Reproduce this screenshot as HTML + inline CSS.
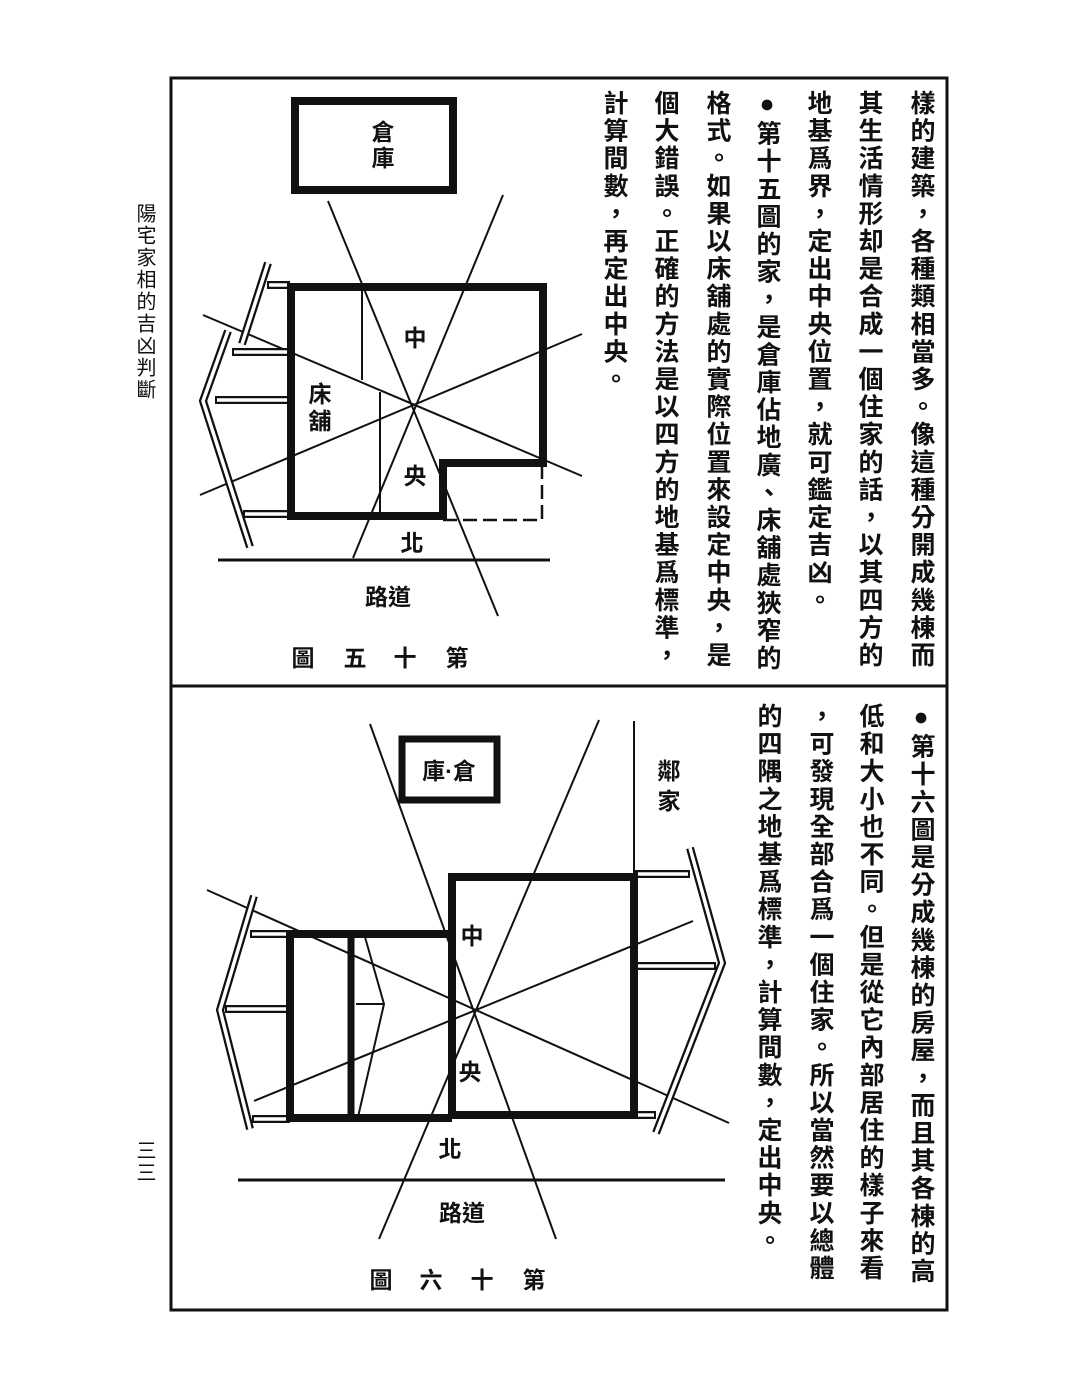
<!DOCTYPE html>
<html><head><meta charset="utf-8"><style>
html,body{margin:0;padding:0;background:#fff;}
body{width:1080px;height:1383px;position:relative;overflow:hidden;font-family:"Liberation Sans","Noto Sans CJK TC","Noto Sans CJK SC",sans-serif;}
svg{position:absolute;left:0;top:0;}
.col{position:absolute;writing-mode:vertical-rl;text-orientation:upright;font-size:25px;line-height:26px;letter-spacing:2.6px;font-weight:bold;color:#111;white-space:nowrap;}
.lab{font-family:"Liberation Sans","Noto Sans CJK TC",sans-serif;fill:#111;font-size:23px;text-anchor:middle;font-weight:bold;}
</style></head><body>
<svg width="1080" height="1383" viewBox="0 0 1080 1383">
<g fill="none" stroke="#111">
<rect x="171" y="78" width="776" height="1232" stroke-width="3"/>
<line x1="171" y1="686" x2="947" y2="686" stroke-width="3"/>

<!-- TOP DIAGRAM -->
<rect x="295" y="101" width="158" height="89" stroke-width="8"/>
<path d="M291 287 H543 V463 H443 V516 H291 Z" stroke-width="8"/>
<path d="M443 520 H542 V463" stroke-width="2.5" stroke-dasharray="14 6"/>
<line x1="362" y1="287" x2="362" y2="380" stroke-width="2"/>
<line x1="380" y1="392" x2="380" y2="516" stroke-width="2"/>
<g stroke-width="2">
<line x1="328" y1="201" x2="498" y2="616"/>
<line x1="503" y1="195" x2="353" y2="558"/>
<line x1="203" y1="315" x2="582" y2="476"/>
<line x1="200" y1="495" x2="582" y2="334"/>
<line x1="218" y1="560" x2="550" y2="560" stroke-width="3"/>
</g>
<!-- left fence top -->
<g stroke-width="8"><polyline points="268,263 242,344"/><polyline points="228,331 203,401 250,547"/>
<line x1="267" y1="285" x2="290" y2="285"/><line x1="232" y1="352" x2="290" y2="352"/><line x1="215" y1="400" x2="290" y2="400"/><line x1="243" y1="514" x2="290" y2="514"/></g>
<g stroke="#fff" stroke-width="3.5"><polyline points="268,263 242,344"/><polyline points="228,331 203,401 250,547"/>
<line x1="269" y1="285" x2="287" y2="285"/><line x1="234" y1="352" x2="287" y2="352"/><line x1="217" y1="400" x2="287" y2="400"/><line x1="245" y1="514" x2="287" y2="514"/></g>

<!-- BOTTOM DIAGRAM -->
<rect x="402" y="739" width="95" height="61" stroke-width="7"/>
<rect x="452" y="877" width="182" height="238" stroke-width="8"/>
<path d="M452 934 H290 V1118 H452" stroke-width="8"/>
<line x1="351" y1="934" x2="351" y2="1118" stroke-width="7"/>
<polyline points="365,937 384,1004 358,1117" stroke-width="2"/>
<line x1="356" y1="1004" x2="384" y2="1004" stroke-width="2"/>
<g stroke-width="2">
<line x1="370" y1="724" x2="556" y2="1239"/>
<line x1="599" y1="720" x2="379" y2="1239"/>
<line x1="207" y1="890" x2="729" y2="1123"/>
<line x1="254" y1="1101" x2="693" y2="921"/>
<line x1="634" y1="721" x2="634" y2="874"/>
<line x1="238" y1="1180" x2="725" y2="1180" stroke-width="3"/>
</g>
<g stroke-width="8"><polyline points="254,896 220,1010 250,1129"/><polyline points="690,848 722,963 656,1133"/>
<line x1="250" y1="934" x2="290" y2="934"/><line x1="225" y1="1009" x2="290" y2="1009"/><line x1="252" y1="1119" x2="290" y2="1119"/>
<line x1="634" y1="874" x2="690" y2="874"/><line x1="634" y1="966" x2="716" y2="966"/><line x1="634" y1="1115" x2="656" y2="1115"/></g>
<g stroke="#fff" stroke-width="3.5"><polyline points="254,896 220,1010 250,1129"/><polyline points="690,848 722,963 656,1133"/>
<line x1="252" y1="934" x2="286" y2="934"/><line x1="227" y1="1009" x2="286" y2="1009"/><line x1="254" y1="1119" x2="286" y2="1119"/>
<line x1="638" y1="874" x2="688" y2="874"/><line x1="638" y1="966" x2="714" y2="966"/><line x1="638" y1="1115" x2="654" y2="1115"/></g>
</g>

<!-- labels top -->
<text class="lab" x="383" y="140">倉</text>
<text class="lab" x="383" y="166">庫</text>
<text class="lab" x="415" y="346">中</text>
<text class="lab" x="320" y="402">床</text>
<text class="lab" x="320" y="429">舖</text>
<rect x="400" y="460" width="30" height="28" fill="#fff"/>
<text class="lab" x="415" y="484">央</text>
<text class="lab" x="412" y="551">北</text>
<text class="lab" x="388" y="605">路道</text>
<text class="lab" x="303" y="666">圖</text>
<text class="lab" x="355" y="666">五</text>
<text class="lab" x="405" y="666">十</text>
<text class="lab" x="457" y="666">第</text>

<!-- labels bottom -->
<text class="lab" x="449" y="779">庫·倉</text>
<text class="lab" x="669" y="779">鄰</text>
<text class="lab" x="669" y="809">家</text>
<text class="lab" x="472" y="944">中</text>
<text class="lab" x="470" y="1080">央</text>
<text class="lab" x="450" y="1157">北</text>
<text class="lab" x="462" y="1221">路道</text>
<text class="lab" x="381" y="1288">圖</text>
<text class="lab" x="431" y="1288">六</text>
<text class="lab" x="482" y="1288">十</text>
<text class="lab" x="534" y="1288">第</text>
</svg>

<div class="col" style="left:133px;top:203px;font-size:20px;line-height:22px;letter-spacing:2px;font-weight:normal;">陽宅家相的吉凶判斷</div>
<div class="col" style="left:133px;top:1140px;font-size:20px;line-height:22px;letter-spacing:2px;font-weight:normal;">三三</div>

<div class="col" style="left:908px;top:90px;">樣的建築，各種類相當多。像這種分開成幾棟而</div>
<div class="col" style="left:856px;top:90px;">其生活情形却是合成一個住家的話，以其四方的</div>
<div class="col" style="left:805px;top:90px;">地基爲界，定出中央位置，就可鑑定吉凶。</div>
<div class="col" style="left:754px;top:90px;">●第十五圖的家，是倉庫佔地廣、床舖處狹窄的</div>
<div class="col" style="left:704px;top:90px;">格式。如果以床舖處的實際位置來設定中央，是</div>
<div class="col" style="left:652px;top:90px;">個大錯誤。正確的方法是以四方的地基爲標準，</div>
<div class="col" style="left:601px;top:90px;">計算間數，再定出中央。</div>

<div class="col" style="left:908px;top:703px;">●第十六圖是分成幾棟的房屋，而且其各棟的高</div>
<div class="col" style="left:857px;top:703px;">低和大小也不同。但是從它內部居住的樣子來看</div>
<div class="col" style="left:807px;top:703px;">，可發現全部合爲一個住家。所以當然要以總體</div>
<div class="col" style="left:755px;top:703px;">的四隅之地基爲標準，計算間數，定出中央。</div>
</body></html>
